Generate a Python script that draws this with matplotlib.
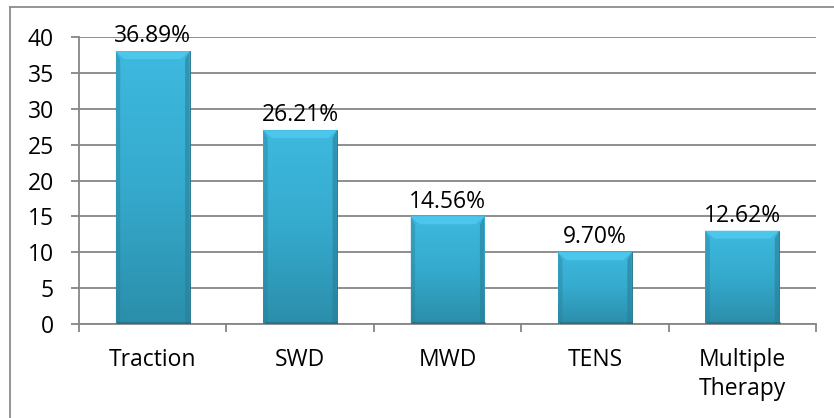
import numpy as np
import matplotlib.pyplot as plt
from matplotlib.colors import LinearSegmentedColormap
from matplotlib.patches import Polygon
from matplotlib.lines import Line2D

categories = ["Traction", "SWD", "MWD", "TENS", "Multiple\nTherapy"]
counts = [38, 27, 15, 10, 13]
pct_labels = ["36.89%", "26.21%", "14.56%", "9.70%", "12.62%"]

plt.rcParams['font.family'] = ['Open Sans', 'DejaVu Sans']
fs = 16.5

W, H = 834, 418
fig = plt.figure(figsize=(W / 100, H / 100), dpi=100)
ax = fig.add_axes([79 / W, 94 / H, 737 / W, 287 / H])

grid_col = "#868686"
x = np.arange(len(categories))
bw = 0.5
bars = ax.bar(x, counts, width=bw, color="#34A9CC", zorder=3,
              edgecolor="#1F6F86", linewidth=0.6)

# vertical shading inside each bar: lighter at the top, darker near the base
cmap = LinearSegmentedColormap.from_list("cyan", ["#2B8EAA", "#35AACD", "#3EB9DF"])
grad = np.linspace(0, 1, 256).reshape(-1, 1)
for b in bars:
    x0, y0 = b.get_x(), b.get_y()
    w, h = b.get_width(), b.get_height()
    im = ax.imshow(grad, cmap=cmap, origin="lower", aspect="auto",
                   extent=[x0, x0 + w, y0, y0 + h], zorder=3.1)
    im.set_clip_path(b)
    # bevel on the top edge
    bev = 1.1
    dx = 0.06
    top = Polygon([[x0, y0 + h], [x0 + w, y0 + h], [x0 + w - dx, y0 + h - bev],
                   [x0 + dx, y0 + h - bev]], closed=True,
                  facecolor="#4CC6EA", edgecolor="none", zorder=3.2)
    ax.add_patch(top)
    # darker side edges
    ax.add_patch(Polygon([[x0 + w, y0], [x0 + w, y0 + h], [x0 + w - dx * 0.5, y0 + h - bev],
                          [x0 + w - dx * 0.5, y0]], closed=True,
                         facecolor="#287F98", edgecolor="none", alpha=0.6, zorder=3.2))
    ax.add_patch(Polygon([[x0, y0], [x0, y0 + h], [x0 + dx * 0.5, y0 + h - bev],
                          [x0 + dx * 0.5, y0]], closed=True,
                         facecolor="#287F98", edgecolor="none", alpha=0.4, zorder=3.2))
    # shadow under the bar
    ax.add_patch(Polygon([[x0 + 0.01, y0], [x0 + w + 0.01, y0], [x0 + w + 0.01, y0 + 0.25],
                          [x0 + 0.01, y0 + 0.25]], closed=True,
                         facecolor="#1F5F70", edgecolor="none", alpha=0.5, zorder=3.3))

for xi, v, lab in zip(x, counts, pct_labels):
    ax.text(xi, v + 0.4, lab, ha="center", va="bottom", fontsize=fs, color="black", zorder=5)

ax.set_xlim(-0.5, len(categories) - 0.5)
ax.set_ylim(0, 40)
ax.set_yticks(np.arange(0, 41, 5))
ax.yaxis.grid(True, color=grid_col, linewidth=1.3, zorder=0)
ax.set_axisbelow(True)

ax.set_xticks(x)
ax.set_xticklabels(categories, fontsize=fs, linespacing=1.3)
ax.set_xticks(np.arange(-0.5, len(categories)), minor=True)
ax.tick_params(axis="x", which="major", length=0, pad=17)
ax.tick_params(axis="x", which="minor", length=6, width=1.3, color=grid_col)
ax.tick_params(axis="y", length=6, width=1.3, color=grid_col, pad=12, labelsize=fs)

for s in ["top", "right"]:
    ax.spines[s].set_visible(False)
for s in ["left", "bottom"]:
    ax.spines[s].set_color(grid_col)
    ax.spines[s].set_linewidth(1.3)

# chart area border (top and left edges)
fig.add_artist(Line2D([10 / W, 1.0], [1 - 6.5 / H, 1 - 6.5 / H], color="#8C8C8C", linewidth=1.3))
fig.add_artist(Line2D([10 / W, 10 / W], [0, 1 - 6.5 / H], color="#8C8C8C", linewidth=1.3))

fig.savefig("out.png", dpi=100)
